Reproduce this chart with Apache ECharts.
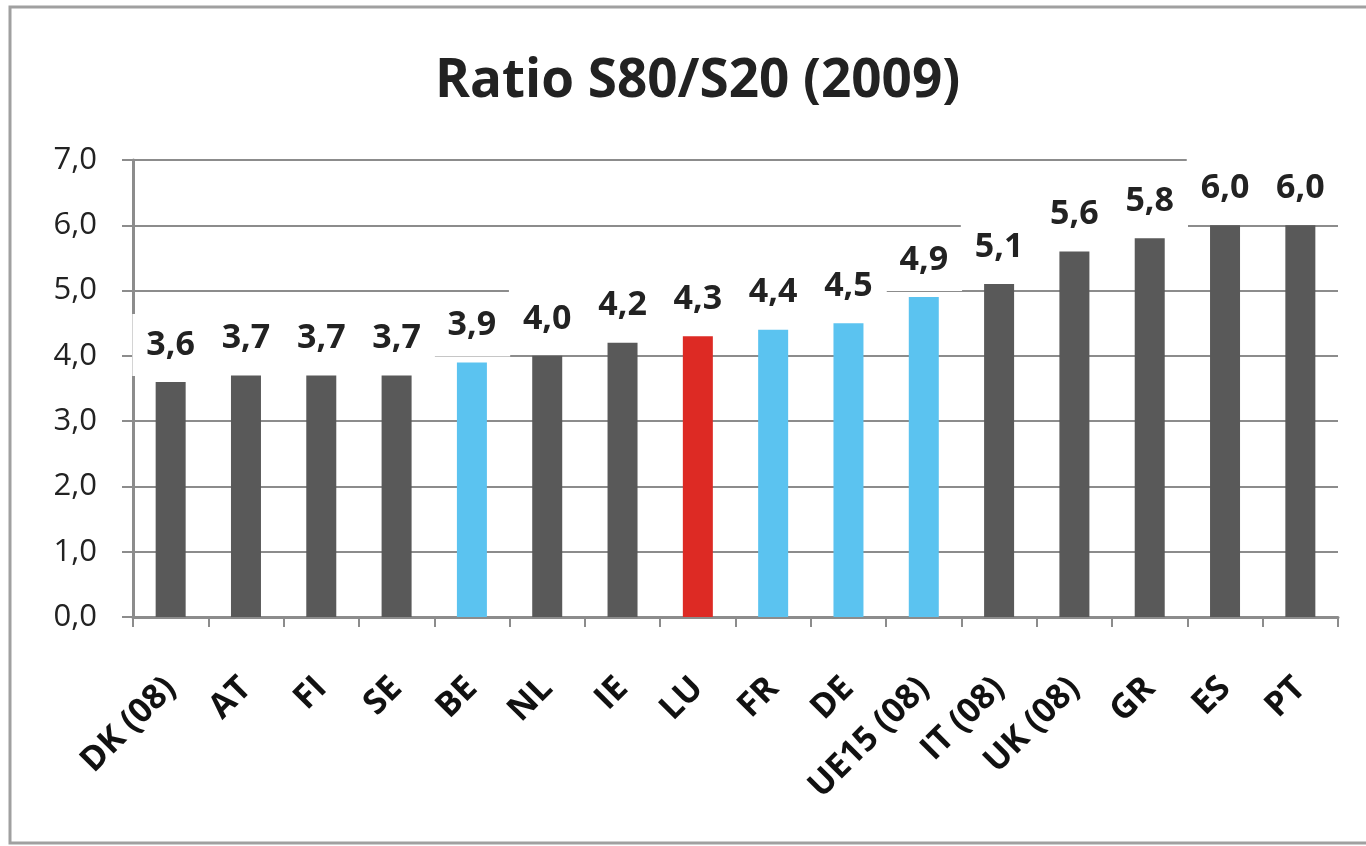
<!DOCTYPE html>
<html lang="fr">
<head>
    <meta charset="UTF-8" />
    <title>Ratio S80/S20 (2009)</title>
    <style>
        body {
            margin: 0;
            padding: 0;
            background: #fff;
        }
        .chart {
            width: 1366px;
            height: 846px;
        }
    </style>
</head>
<body>
<div class="chart"></div>
<script src="https://cdn.jsdelivr.net/npm/echarts@6/dist/echarts.min.js"></script>
<script>
    // données
    const categories = ['DK (08)', 'AT', 'FI', 'SE', 'BE', 'NL', 'IE', 'LU', 'FR', 'DE', 'UE15 (08)', 'IT (08)', 'UK (08)', 'GR', 'ES', 'PT'];
    const values = [3.6, 3.7, 3.7, 3.7, 3.9, 4.0, 4.2, 4.3, 4.4, 4.5, 4.9, 5.1, 5.6, 5.8, 6.0, 6.0];
    const blueGroup = ['BE', 'FR', 'DE', 'UE15 (08)'];
    const redGroup = ['LU'];
    const yTicks = [0, 1, 2, 3, 4, 5, 6, 7];

    const fmt = v => v.toFixed(1).replace('.', ',');
    const font = '"Open Sans", "DejaVu Sans", sans-serif';

    const barData = values.map((v, i) => {
        const c = categories[i];
        let color = '#595959';
        if (blueGroup.includes(c)) color = '#5bc3f0';
        if (redGroup.includes(c)) color = '#dd2a24';
        return { value: v, itemStyle: { color: color } };
    });

    const chart = echarts.init(document.querySelector('.chart'));
    const option = {
        animation: false,
        title: {
            text: 'Ratio S80/S20 (2009)',
            left: 430,
            top: 50,
            textStyle: { fontFamily: font, fontSize: 53, fontWeight: 'bold', color: '#222' }
        },
        graphic: [{
            type: 'rect',
            shape: { x: 10, y: 7, width: 1370, height: 836 },
            style: { fill: 'none', stroke: '#a0a0a0', lineWidth: 3 },
            z: -1
        }],
        grid: { left: 133, right: 28, top: 160, bottom: 229, outerBoundsMode: 'none' },
        xAxis: {
            type: 'category',
            data: categories,
            axisLine: { lineStyle: { color: '#8c8c8c', width: 3 } },
            axisTick: { show: true, length: 10, lineStyle: { color: '#8c8c8c', width: 2 } },
            axisLabel: {
                interval: 0,
                rotate: 45,
                margin: 66,
                fontFamily: font,
                fontSize: 34,
                fontWeight: 'bold',
                color: '#111'
            }
        },
        yAxis: {
            type: 'value',
            min: yTicks[0],
            max: yTicks[yTicks.length - 1],
            interval: 1,
            axisLine: { show: true, lineStyle: { color: '#8c8c8c', width: 3 } },
            axisTick: { show: true, length: 11, lineStyle: { color: '#8c8c8c', width: 2 } },
            splitLine: { lineStyle: { color: '#8c8c8c', width: 2 } },
            axisLabel: {
                formatter: fmt,
                margin: 36,
                fontFamily: font,
                fontSize: 31,
                color: '#222'
            }
        },
        series: [{
            type: 'bar',
            data: barData,
            barWidth: 30,
            label: {
                show: true,
                position: 'top',
                distance: 6,
                formatter: p => fmt(p.value),
                fontFamily: font,
                fontSize: 34,
                fontWeight: 'bold',
                color: '#222',
                backgroundColor: '#fff',
                padding: [14, 14]
            }
        }]
    };
    chart.setOption(option);
</script>
</body>
</html>
